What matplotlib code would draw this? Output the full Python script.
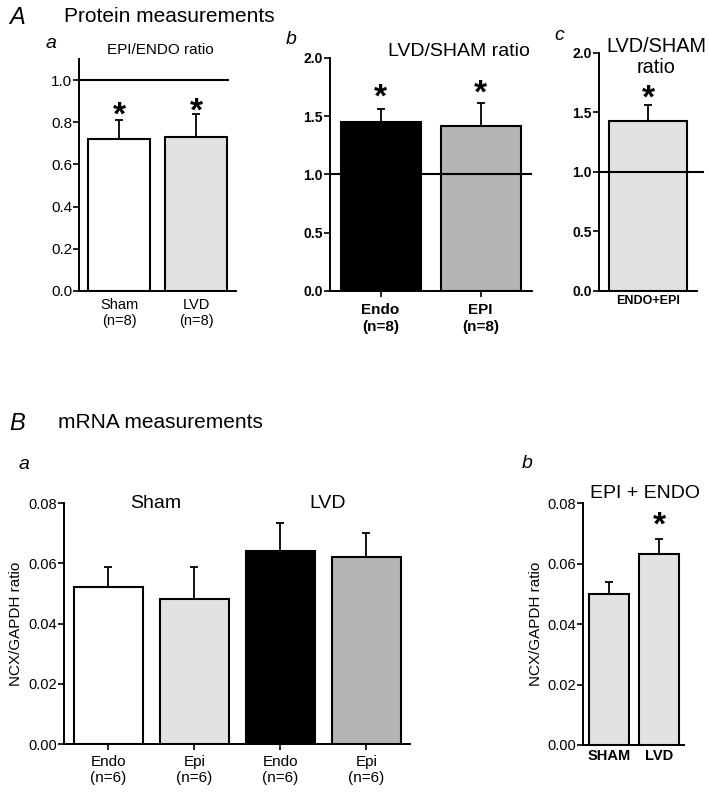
import numpy as np
import matplotlib
matplotlib.use('Agg')
import matplotlib.pyplot as plt

plt.rcParams['font.family'] = ['Liberation Sans', 'DejaVu Sans']

# Panel A a: EPI/ENDO ratio (protein)
aa_labels = ['Sham\n(n=8)', 'LVD\n(n=8)']
aa_values = [0.72, 0.73]
aa_errors = [0.09, 0.11]

# Panel A b: LVD/SHAM ratio (protein)
ab_labels = ['Endo\n(n=8)', 'EPI\n(n=8)']
ab_values = [1.45, 1.42]
ab_errors = [0.11, 0.19]

# Panel A c: LVD/SHAM ratio, ENDO+EPI
ac_labels = ['ENDO+EPI']
ac_values = [1.43]
ac_errors = [0.13]

# Panel B a: NCX/GAPDH mRNA
ba_labels = ['Endo\n(n=6)', 'Epi\n(n=6)', 'Endo\n(n=6)', 'Epi\n(n=6)']
ba_values = [0.052, 0.048, 0.064, 0.062]
ba_errors = [0.0067, 0.0107, 0.0095, 0.0082]

# Panel B b: EPI + ENDO
bb_labels = ['SHAM', 'LVD']
bb_values = [0.050, 0.063]
bb_errors = [0.004, 0.005]

WHITE = 'white'
LIGHT = '#e2e2e2'
MED = '#b4b4b4'
BLACK = 'black'

W, H = 709, 796
fig = plt.figure(figsize=(W / 100, H / 100), dpi=100)


def ax_at(x0, x1, y_top, y_bot):
    return fig.add_axes([x0 / W, 1 - y_bot / H, (x1 - x0) / W, (y_bot - y_top) / H])


def style(ax, bold=False, fs=10.5, xfs=10.5):
    for s in ['top', 'right']:
        ax.spines[s].set_visible(False)
    for s in ['left', 'bottom']:
        ax.spines[s].set_linewidth(1.4)
    ax.tick_params(direction='out', length=4, width=1.2, labelsize=fs, pad=1)
    ax.tick_params(axis='x', labelsize=xfs)
    if bold:
        for t in ax.get_xticklabels() + ax.get_yticklabels():
            t.set_fontweight('bold')


def bars(ax, values, errors, colors):
    x = np.arange(len(values))
    ax.bar(x, values, width=0.8, color=colors, edgecolor='black', linewidth=1.5, zorder=3)
    ax.errorbar(x, values, yerr=[np.zeros(len(values)), errors], fmt='none',
                ecolor='black', elinewidth=1.3, capsize=3, capthick=1.3, zorder=2)
    return x


def star(ax, x, y, size=24):
    ax.text(x, y, '*', ha='center', va='center', fontsize=size, fontweight='bold',
            clip_on=False)


# ---- A a ----
ax = ax_at(79, 236, 59, 291)
x = bars(ax, aa_values, aa_errors, [WHITE, LIGHT])
ax.plot([-0.52, 1.42], [1.0, 1.0], color='black', lw=1.5, zorder=4, clip_on=False)
ax.set_xlim(-0.52, 1.52)
ax.set_ylim(0, 1.1)
ax.set_yticks([0.0, 0.2, 0.4, 0.6, 0.8, 1.0])
ax.set_yticklabels(['0.0', '0.2', '0.4', '0.6', '0.8', '1.0'])
ax.set_xticks(x)
ax.set_xticklabels(aa_labels)
style(ax, fs=11, xfs=10.5)
ax.tick_params(axis='x', length=0, pad=5)
star(ax, 0, 0.83)
star(ax, 1, 0.85)

# ---- A b ----
ax = ax_at(330, 532, 58, 291)
x = bars(ax, ab_values, ab_errors, [BLACK, MED])
ax.plot([-0.505, 1.515], [1.0, 1.0], color='black', lw=1.5, zorder=4)
ax.set_xlim(-0.505, 1.515)
ax.set_ylim(0, 2.0)
ax.set_yticks([0.0, 0.5, 1.0, 1.5, 2.0])
ax.set_yticklabels(['0.0', '0.5', '1.0', '1.5', '2.0'])
ax.set_xticks(x)
ax.set_xticklabels(ab_labels)
style(ax, bold=True, fs=10, xfs=11)
ax.tick_params(axis='x', pad=5)
star(ax, 0, 1.66)
star(ax, 1, 1.69)

# ---- A c ----
ax = ax_at(599, 697, 53, 291)
x = bars(ax, ac_values, ac_errors, [LIGHT])
ax.plot([-0.5, 0.56], [1.0, 1.0], color='black', lw=1.5, zorder=4, clip_on=False)
ax.set_xlim(-0.5, 0.5)
ax.set_ylim(0, 2.0)
ax.set_yticks([0.0, 0.5, 1.0, 1.5, 2.0])
ax.set_yticklabels(['0.0', '0.5', '1.0', '1.5', '2.0'])
ax.set_xticks(x)
ax.set_xticklabels(ac_labels)
style(ax, bold=True, fs=10, xfs=9)
ax.tick_params(axis='x', length=0, pad=3)
star(ax, 0, 1.61)

# ---- B a ----
ax = ax_at(64, 410, 503, 744)
x = bars(ax, ba_values, ba_errors, [WHITE, LIGHT, BLACK, MED])
ax.set_xlim(-0.517, 3.506)
ax.set_ylim(0, 0.08)
ax.set_yticks([0.0, 0.02, 0.04, 0.06, 0.08])
ax.set_yticklabels(['0.00', '0.02', '0.04', '0.06', '0.08'])
ax.set_xticks(x)
ax.set_xticklabels(ba_labels)
ax.set_ylabel('NCX/GAPDH ratio', fontsize=11, labelpad=4)
style(ax, fs=10.5, xfs=11)
ax.tick_params(axis='x', pad=4)
ax.text(0.55, 0.08, 'Sham', ha='center', va='center', fontsize=14)
ax.text(2.55, 0.08, 'LVD', ha='center', va='center', fontsize=14)

# ---- B b ----
ax = ax_at(583, 684, 503, 745)
x = bars(ax, bb_values, bb_errors, [LIGHT, LIGHT])
ax.set_xlim(-0.52, 1.5)
ax.set_ylim(0, 0.08)
ax.set_yticks([0.0, 0.02, 0.04, 0.06, 0.08])
ax.set_yticklabels(['0.00', '0.02', '0.04', '0.06', '0.08'])
ax.set_xticks(x)
ax.set_xticklabels(bb_labels)
ax.set_ylabel('NCX/GAPDH ratio', fontsize=11, labelpad=3)
style(ax, fs=10.5, xfs=10.5)
for t in ax.get_xticklabels():
    t.set_fontweight('bold')
ax.tick_params(axis='x', length=0, pad=3)
star(ax, 1, 0.0725)

# ---- figure-level labels ----
def ftext(px, py, s, **kw):
    fig.text(px / W, 1 - py / H, s, **kw)

ftext(9, 17, 'A', fontsize=17, style='italic', va='center')
ftext(64, 17, 'Protein measurements', fontsize=15, va='center')
ftext(46, 44, 'a', fontsize=14, style='italic', va='center')
ftext(160, 50, 'EPI/ENDO ratio', fontsize=11, va='center', ha='center')
ftext(286, 40, 'b', fontsize=14, style='italic', va='center')
ftext(459, 52, 'LVD/SHAM ratio', fontsize=14, va='center', ha='center')
ftext(554, 35, 'c', fontsize=14, style='italic', va='center')
ftext(656, 57, 'LVD/SHAM\nratio', fontsize=14.3, va='center', ha='center', linespacing=1.1)

ftext(9, 423, 'B', fontsize=17, style='italic', va='center')
ftext(58, 423, 'mRNA measurements', fontsize=15, va='center')
ftext(19, 465, 'a', fontsize=14, style='italic', va='center')
ftext(522, 463, 'b', fontsize=14, style='italic', va='center')
ftext(645, 493, 'EPI + ENDO', fontsize=14, va='center', ha='center')

fig.savefig('out.png', dpi=100)
